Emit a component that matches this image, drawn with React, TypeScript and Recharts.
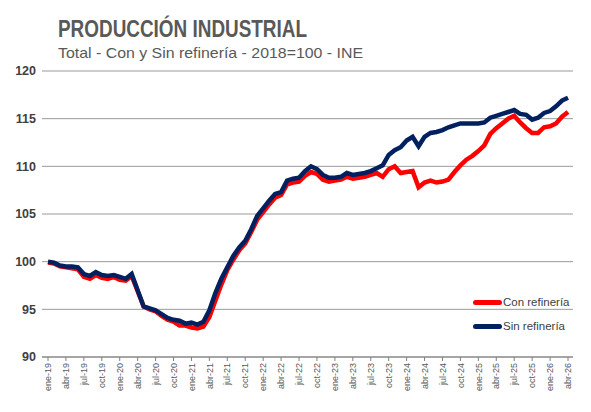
import { LineChart, Line, XAxis, YAxis, CartesianGrid, Legend } from "recharts";

const monthNames = ["ene", "feb", "mar", "abr", "may", "jun", "jul", "ago", "sep", "oct", "nov", "dic"];
const years = ["19", "20", "21", "22", "23", "24", "25", "26"];
// ene-19 .. abr-26
const categories = years.flatMap((y) => monthNames.map((m) => `${m}-${y}`)).slice(0, 88);

// Índice 2018=100, sin refinería
const sinRefineria = [
  100.0, 99.9, 99.6, 99.5, 99.5, 99.4, 98.7, 98.5, 98.9, 98.6, 98.5, 98.6,
  98.4, 98.2, 98.7, 97.0, 95.3, 95.1, 94.9, 94.5, 94.1, 93.9, 93.8, 93.5,
  93.6, 93.4, 93.7, 94.9, 96.7, 98.2, 99.4, 100.6, 101.5, 102.2, 103.4, 104.8,
  105.6, 106.4, 107.1, 107.3, 108.5, 108.7, 108.8, 109.5, 110.0, 109.7, 109.1, 108.8,
  108.8, 108.9, 109.3, 109.1, 109.2, 109.3, 109.5, 109.8, 110.1, 111.2, 111.7, 112.0,
  112.7, 113.1, 112.1, 113.1, 113.5, 113.6, 113.8, 114.1, 114.3, 114.5, 114.5, 114.5,
  114.5, 114.6, 115.1, 115.3, 115.5, 115.7, 115.9, 115.5, 115.4, 114.9, 115.1, 115.6,
  115.8, 116.3, 116.9, 117.2,
];

// Índice 2018=100, con refinería
const conRefineria = [
  99.9, 99.8, 99.5, 99.4, 99.3, 99.2, 98.4, 98.2, 98.6, 98.3, 98.2, 98.4,
  98.1, 98.0, 98.5, 96.9, 95.3, 95.0, 94.8, 94.3, 93.9, 93.7, 93.3, 93.3,
  93.1, 93.0, 93.2, 94.2, 95.9, 97.6, 99.1, 100.2, 101.2, 101.9, 103.1, 104.4,
  105.2, 106.0, 106.7, 107.0, 108.1, 108.3, 108.4, 109.0, 109.4, 109.2, 108.6, 108.4,
  108.5, 108.6, 108.9, 108.7, 108.8, 108.9, 109.1, 109.3, 108.9, 109.7, 110.0, 109.3,
  109.4, 109.5, 107.8, 108.3, 108.5, 108.3, 108.4, 108.6, 109.4, 110.1, 110.7, 111.1,
  111.6, 112.2, 113.4, 114.0, 114.5, 115.0, 115.3, 114.6, 114.0, 113.5, 113.5, 114.1,
  114.2, 114.5, 115.2, 115.7,
];

const yTicks = [90, 95, 100, 105, 110, 115, 120];

const data = categories.map((mes, i) => ({
  mes,
  con: conRefineria[i],
  sin: sinRefineria[i],
}));

const RED = "#ff0000";
const NAVY = "#002060";
const FONT = '"Liberation Sans", Arial, sans-serif';

function MonthTick(props: any) {
  const { x, y, payload } = props;
  return (
    <g transform={`translate(${x},${y})`}>
      <text transform="rotate(-90)" x={0} y={0} dy="0.35em" textAnchor="end" fontSize={9} fill="#595959" fontFamily={FONT}>
        {payload.value}
      </text>
    </g>
  );
}

function ChartLegend() {
  const items = [
    { label: "Con refinería", color: RED },
    { label: "Sin refinería", color: NAVY },
  ];
  return (
    <div style={{ fontFamily: FONT }}>
      {items.map((it) => (
        <div key={it.label} style={{ display: "flex", alignItems: "center", height: 24 }}>
          <span style={{ display: "inline-block", width: 29, height: 5, borderRadius: 3, background: it.color }} />
          <span style={{ fontSize: 11.5, color: "#404040", marginLeft: 1 }}>{it.label}</span>
        </div>
      ))}
    </div>
  );
}

export default function App() {
  return (
    <div style={{ position: "absolute", left: 0, top: 0, width: 591, height: 412, background: "#fff" }}>
      <svg width={591} height={70} style={{ position: "absolute", left: 0, top: 0 }}>
        <text x={58} y={37} fontSize={23} fontWeight="bold" fill="#595959" fontFamily={FONT} textLength={249} lengthAdjust="spacingAndGlyphs">
          PRODUCCIÓN INDUSTRIAL
        </text>
        <text x={58} y={58} fontSize={15} fill="#595959" fontFamily={FONT} textLength={305} lengthAdjust="spacingAndGlyphs">
          Total - Con y Sin refinería - 2018=100 - INE
        </text>
      </svg>
      <LineChart width={591} height={412} data={data} margin={{ top: 71, right: 18, bottom: 5, left: 6 }}>
        <CartesianGrid vertical={false} stroke="#9a9a9a" strokeWidth={1} />
        <XAxis
          dataKey="mes"
          interval={2}
          height={50}
          padding={{ left: 6, right: 5 }}
          tick={<MonthTick />}
          tickSize={4}
          tickMargin={2}
          axisLine={{ stroke: "#7f7f7f" }}
          tickLine={{ stroke: "#7f7f7f" }}
        />
        <YAxis
          domain={[90, 120]}
          ticks={yTicks}
          width={36}
          axisLine={false}
          tickLine={false}
          tickSize={0}
          tickMargin={6}
          tick={{ fontSize: 12.5, fontWeight: "bold", fill: "#404040", fontFamily: FONT }}
        />
        <Legend
          layout="vertical"
          align="center"
          verticalAlign="middle"
          content={<ChartLegend />}
          wrapperStyle={{ position: "absolute", left: 473, top: 290, width: 110 }}
        />
        <Line type="linear" dataKey="con" stroke={RED} strokeWidth={4.5} dot={false} isAnimationActive={false} />
        <Line type="linear" dataKey="sin" stroke={NAVY} strokeWidth={4.5} dot={false} isAnimationActive={false} />
      </LineChart>
    </div>
  );
}
